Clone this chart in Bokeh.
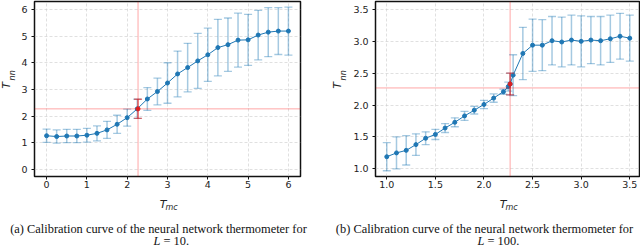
import numpy as np
from bokeh.plotting import figure
from bokeh.layouts import row, column
from bokeh.models import Span, Label, Range1d, FixedTicker
from bokeh.embed import file_html
from bokeh.resources import INLINE

TC = 2.269

# ---------------- Panel (a): L = 10 ----------------
a_t = [0.0, 0.25, 0.5, 0.75, 1.0, 1.25, 1.5, 1.75, 2.0, 2.25, 2.5, 2.75, 3.0,
       3.25, 3.5, 3.75, 4.0, 4.25, 4.5, 4.75, 5.0, 5.25, 5.5, 5.75, 6.0]
a_tnn = [1.26, 1.23, 1.25, 1.25, 1.28, 1.35, 1.48, 1.69, 1.94, 2.27, 2.64, 2.92, 3.24,
         3.58, 3.82, 4.07, 4.30, 4.57, 4.68, 4.85, 4.86, 5.04, 5.15, 5.19, 5.19]
a_err = [0.25, 0.25, 0.25, 0.25, 0.26, 0.28, 0.32, 0.34, 0.32, 0.36, 0.43, 0.50, 0.76,
         0.86, 0.91, 1.03, 1.00, 1.06, 1.00, 1.01, 0.96, 0.93, 0.92, 0.88, 0.90]
a_tc_t = [TC]
a_tc_tnn = [2.27]
a_tc_err = [0.36]
a_ticks = [0, 1, 2, 3, 4, 5, 6]
a_ticklabels = ["0", "1", "2", "3", "4", "5", "6"]

# ---------------- Panel (b): L = 100 ----------------
b_t = [1.0, 1.1, 1.2, 1.3, 1.4, 1.5, 1.6, 1.7, 1.8, 1.9, 2.0, 2.1, 2.2, 2.25, 2.269,
       2.3, 2.4, 2.5, 2.6, 2.7, 2.8, 2.9, 3.0, 3.1, 3.2, 3.3, 3.4, 3.5]
b_tnn = [1.19, 1.25, 1.29, 1.38, 1.48, 1.54, 1.64, 1.73, 1.83, 1.92, 2.01, 2.11, 2.21, 2.29, 2.33,
         2.47, 2.81, 2.94, 2.94, 3.01, 2.99, 3.02, 3.00, 3.02, 3.01, 3.04, 3.08, 3.05]
b_err = [0.22, 0.25, 0.23, 0.17, 0.10, 0.08, 0.07, 0.07, 0.07, 0.06, 0.065, 0.065, 0.04, 0.07, 0.17,
         0.32, 0.41, 0.41, 0.40, 0.38, 0.39, 0.39, 0.40, 0.37, 0.38, 0.37, 0.36, 0.36]
b_tc_t = [TC]
b_tc_tnn = [2.33]
b_tc_err = [0.17]
b_ticks = [1.0, 1.5, 2.0, 2.5, 3.0, 3.5]
b_ticklabels = ["1.0", "1.5", "2.0", "2.5", "3.0", "3.5"]

caption_a = "(a) Calibration curve of the neural network thermometer for"
caption_b = "(b) Calibration curve of the neural network thermometer for"
size_a = "= 10."
size_b = "= 100."

BLUE = "#1f77b4"
RED = "#d62728"
TOP_H = 192      # height of the plot row
BOT_H = 58       # height of the label / caption row
FRAME_H = 175


def make_panel(t, tnn, err, tc_t, tc_tnn, tc_err, ticks, ticklabels, xr, yr,
               border_left, border_right, frame_w):
    p = figure(width=border_left + frame_w + border_right, height=TOP_H,
               frame_width=frame_w, frame_height=FRAME_H,
               min_border_left=border_left, min_border_right=border_right,
               min_border_top=1, min_border_bottom=TOP_H - FRAME_H - 1,
               x_range=Range1d(*xr), y_range=Range1d(*yr),
               output_backend="svg", toolbar_location=None)
    p.outline_line_color = "#111111"
    p.outline_line_width = 1.5
    overrides = {}
    for k, s in zip(ticks, ticklabels):
        overrides[float(k)] = s
        if float(k).is_integer():
            overrides[int(k)] = s
    for ax in (p.xaxis[0], p.yaxis[0]):
        ax.ticker = FixedTicker(ticks=ticks)
        ax.major_label_overrides = overrides
        ax.axis_line_color = None
        ax.major_tick_out = 3
        ax.major_tick_in = 0
        ax.major_tick_line_color = "#111111"
        ax.minor_tick_line_color = None
        ax.major_label_text_font = "DejaVu Sans"
        ax.major_label_text_font_size = "9.5px"
        ax.major_label_text_color = "#222222"
    p.xaxis.major_label_standoff = 1
    p.yaxis.major_label_standoff = 4
    p.grid.grid_line_color = "#cccccc"
    p.grid.grid_line_alpha = 0.6
    p.grid.grid_line_dash = "3 2"

    # reference lines at Tc
    p.add_layout(Span(location=TC, dimension="height", line_color="red", line_alpha=0.35, line_width=1))
    p.add_layout(Span(location=TC, dimension="width", line_color="red", line_alpha=0.35, line_width=1))

    lo = [v - e for v, e in zip(tnn, err)]
    hi = [v + e for v, e in zip(tnn, err)]
    p.segment(t, lo, t, hi, line_color=BLUE, line_alpha=0.4, line_width=1.5)
    p.scatter(t, lo, marker="dash", size=8, line_color=BLUE, line_alpha=0.4, line_width=1.3)
    p.scatter(t, hi, marker="dash", size=8, line_color=BLUE, line_alpha=0.4, line_width=1.3)
    p.line(t, tnn, line_color=BLUE, line_width=1)
    p.scatter(t, tnn, marker="circle", size=4, fill_color=BLUE, line_color=BLUE)

    rlo = [v - e for v, e in zip(tc_tnn, tc_err)]
    rhi = [v + e for v, e in zip(tc_tnn, tc_err)]
    p.segment(tc_t, rlo, tc_t, rhi, line_color=RED, line_alpha=0.6, line_width=1.5)
    p.scatter(tc_t, rlo, marker="dash", size=8, line_color=RED, line_alpha=0.6, line_width=1.3)
    p.scatter(tc_t, rhi, marker="dash", size=8, line_color=RED, line_alpha=0.6, line_width=1.3)
    p.scatter(tc_t, tc_tnn, marker="circle", size=4, fill_color=RED, line_color=RED)
    return p


def text_panel(x0, x1, y0, y1):
    """A bare figure whose data coordinates are page pixels (y downward)."""
    p = figure(width=x1 - x0, height=y1 - y0, x_range=Range1d(x0, x1), y_range=Range1d(y1, y0),
               min_border=0, min_border_left=0, min_border_right=0, min_border_top=0,
               min_border_bottom=0, x_axis_location=None, y_axis_location=None,
               output_backend="svg", toolbar_location=None)
    p.outline_line_color = None
    p.grid.visible = False
    return p


def lab(p, x, y, text, size="11px", font="DejaVu Sans", style="italic", align="center",
        angle=0.0, color="#222222"):
    p.add_layout(Label(x=x, y=y, text=text, text_font=font, text_font_size=size,
                       text_font_style=style, text_align=align, text_baseline="middle",
                       text_color=color, angle=angle))


def ylabel(p, xT, yc):
    lab(p, xT, yc + 6, "T", size="11px", angle=np.pi / 2)
    lab(p, xT + 5.5, yc - 5, "nn", size="8px", angle=np.pi / 2)


def xlabel(p, xc, y):
    lab(p, xc + 1, y, "T", size="11px", align="right")
    lab(p, xc, y + 3, "mc", size="8px", align="left")


def caption(p, c1, y1, text, xl, tail):
    fs = "12.4px"
    lab(p, c1, y1, text, size=fs, font="Liberation Serif", style="normal", color="#111111")
    lab(p, xl, y1 + 12, "L", size=fs, font="Liberation Serif", style="italic",
        align="right", color="#111111")
    lab(p, xl + 3, y1 + 12, tail, size=fs, font="Liberation Serif", style="normal",
        align="left", color="#111111")


# plot row: [ylabel a][panel a][ylabel b][panel b]
ya = text_panel(0, 18, 0, TOP_H)
ylabel(ya, 6, 86)
pa = make_panel(a_t, a_tnn, a_err, a_tc_t, a_tc_tnn, a_tc_err, a_ticks, a_ticklabels,
                (-0.3, 6.3), (-0.27, 6.30), 14, 10, 266)
yb = text_panel(308, 345, 0, TOP_H)
ylabel(yb, 335, 86)
pb = make_panel(b_t, b_tnn, b_err, b_tc_t, b_tc_tnn, b_tc_err, b_ticks, b_ticklabels,
                (0.884, 3.60), (0.88, 3.625), 28, 3, 264)

# bottom row: axis titles and captions
bottom = text_panel(0, 640, TOP_H, TOP_H + BOT_H)
xlabel(bottom, 165, 204)
xlabel(bottom, 505, 204)
caption(bottom, 158, 228, caption_a, 160, size_a)
caption(bottom, 484, 228, caption_b, 484, size_b)

layout = column(row(ya, pa, yb, pb), bottom)
open("out.html", "w").write(file_html(layout, INLINE))
